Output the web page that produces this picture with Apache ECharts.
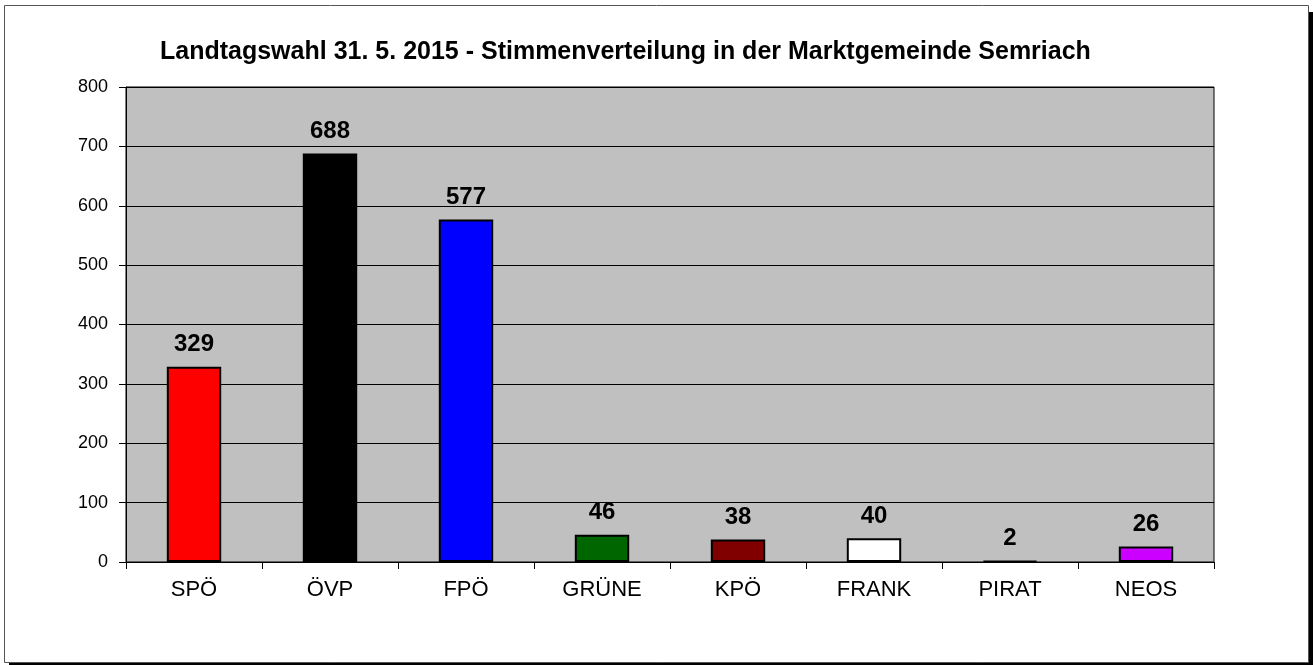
<!DOCTYPE html>
<html>
<head>
<meta charset="utf-8">
<script src="https://cdn.jsdelivr.net/npm/echarts@6/dist/echarts.min.js"></script>
<style>
  html, body { margin: 0; padding: 0; background: #fff; }
  #chart { width: 1313px; height: 665px; }
</style>
</head>
<body>
<div id="chart"></div>
<script>
// Stimmen je Partei
const parties = ["SPÖ", "ÖVP", "FPÖ", "GRÜNE", "KPÖ", "FRANK", "PIRAT", "NEOS"];
const votes = [329, 688, 577, 46, 38, 40, 2, 26];
const barColors = ["#ff0000", "#000000", "#0000ff", "#006600", "#800000", "#ffffff", "#000000", "#cc00ff"];
const yTicks = [0, 100, 200, 300, 400, 500, 600, 700, 800];

const chart = echarts.init(document.getElementById("chart"), null, { renderer: "canvas" });

const option = {
  backgroundColor: "#ffffff",
  animation: false,
  textStyle: { fontFamily: "Liberation Sans, Arial, sans-serif" },
  graphic: [
    {
      // Schatten rechts/unten
      type: "rect",
      z: -11,
      shape: { x: 9, y: 12, width: 1304, height: 660 },
      style: { fill: "#000000" },
    },
    {
      // Rahmen
      type: "rect",
      z: -10,
      shape: { x: 4.5, y: 5.5, width: 1304, height: 657 },
      style: { fill: "#ffffff", stroke: "#555555", lineWidth: 1 },
    },
  ],
  title: {
    text: "Landtagswahl 31. 5. 2015 - Stimmenverteilung in der Marktgemeinde Semriach",
    left: 155,
    top: 35,
    textStyle: {
      fontFamily: "Liberation Sans",
      fontWeight: "bold",
      fontSize: 25,
      color: "#000",
    },
  },
  grid: {
    left: 126,
    top: 87,
    right: 99,
    bottom: 103,
    show: true,
    backgroundColor: "#c0c0c0",
    borderColor: "#000",
    borderWidth: 1,
  },
  xAxis: {
    type: "category",
    data: parties,
    axisLine: { lineStyle: { color: "#000", width: 1 } },
    axisTick: { show: true, length: 7, lineStyle: { color: "#000" } },
    axisLabel: {
      color: "#000",
      fontSize: 22,
      margin: 17,
      fontFamily: "Liberation Sans",
    },
  },
  yAxis: {
    type: "value",
    min: yTicks[0],
    max: yTicks[yTicks.length - 1],
    interval: 100,
    axisLine: { show: true, lineStyle: { color: "#000", width: 1 } },
    axisTick: { show: true, length: 7, lineStyle: { color: "#000" } },
    axisLabel: {
      color: "#000",
      fontSize: 18,
      margin: 18,
      fontFamily: "Liberation Sans",
    },
    splitLine: { show: true, lineStyle: { color: "#000", width: 1 } },
  },
  series: [
    {
      type: "bar",
      data: votes.map((v, i) => ({
        value: v,
        itemStyle: { color: barColors[i] },
      })),
      barWidth: "40%",
      itemStyle: { borderColor: "#000", borderWidth: 2 },
      label: {
        show: true,
        position: "top",
        distance: 10,
        color: "#000",
        fontWeight: "bold",
        fontSize: 24,
        fontFamily: "Liberation Sans",
      },
    },
  ],
};

chart.setOption(option);
</script>
</body>
</html>
